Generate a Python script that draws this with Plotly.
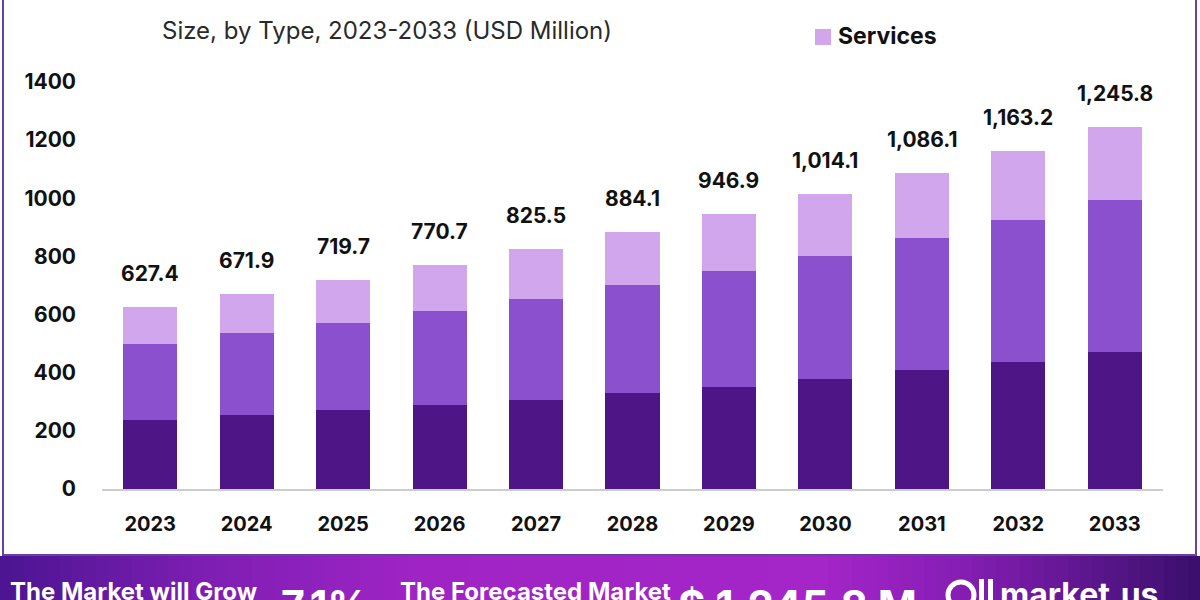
import plotly.graph_objects as go

years = ["2023", "2024", "2025", "2026", "2027", "2028", "2029", "2030", "2031", "2032", "2033"]
hardware = [238, 255, 272, 290, 307, 331, 352, 379, 410, 438, 472]
software = [262, 283, 300, 324, 348, 372, 397, 424, 455, 486, 521]
totals = [627.4, 671.9, 719.7, 770.7, 825.5, 884.1, 946.9, 1014.1, 1086.1, 1163.2, 1245.8]
total_labels = ["627.4", "671.9", "719.7", "770.7", "825.5", "884.1", "946.9",
                "1,014.1", "1,086.1", "1,163.2", "1,245.8"]
services = [round(t - h - s, 1) for t, h, s in zip(totals, hardware, software)]
y_ticks = [0, 200, 400, 600, 800, 1000, 1200, 1400]

W, H = 1200, 600
ML, MR, MT, MB = 102, 37, 82, 111
PW, PH = W - ML - MR, H - MT - MB


def px(x):
    return (x - ML) / PW


def py(y):
    return (H - MB - y) / PH


FONT = "Inter, Poppins, Open Sans, sans-serif"
C_DARK = "#4d1585"
C_MID = "#8a50cd"
C_LIGHT = "#d1a6ec"

fig = go.Figure()
fig.add_trace(go.Bar(x=years, y=hardware, name="Hardware", marker_color=C_DARK,
                     marker_line_width=0, hoverinfo="x+y+name"))
fig.add_trace(go.Bar(x=years, y=software, name="Software", marker_color=C_MID,
                     marker_line_width=0, hoverinfo="x+y+name"))
fig.add_trace(go.Bar(x=years, y=services, name="Services", marker_color=C_LIGHT,
                     marker_line_width=0, hoverinfo="x+y+name"))

annotations = []
# total labels: on a category axis annotations are placed by category index
for i, (tot, lab) in enumerate(zip(totals, total_labels)):
    annotations.append(dict(x=i, y=tot, xref="x", yref="y", text=f"<b>{lab}</b>",
                            showarrow=False, yanchor="bottom", yshift=19,
                            font=dict(family=FONT, size=21, color="#111111")))

# subtitle
annotations.append(dict(xref="paper", yref="paper", x=px(387), y=py(30),
                        text="Size, by Type, 2023-2033 (USD Million)", showarrow=False,
                        xanchor="center", yanchor="middle",
                        font=dict(family=FONT, size=24, color="#2a2a2a")))

# legend entry (drawn manually to get the large square swatch)
annotations.append(dict(xref="paper", yref="paper", x=px(836), y=py(36),
                        text="<b>Services</b>", showarrow=False,
                        xanchor="left", yanchor="middle",
                        font=dict(family=FONT, size=23, color="#111111")))

shapes = []
shapes.append(dict(type="rect", xref="paper", yref="paper", x0=px(815), x1=px(831),
                   y0=py(29), y1=py(45), fillcolor=C_LIGHT, line=dict(width=0)))

# gradient banner at the bottom
stops = [(0, (0x4b, 0x15, 0x91)), (200, (0x7c, 0x1e, 0xb2)), (420, (0xa0, 0x24, 0xc4)),
         (820, (0xa4, 0x25, 0xc8)), (960, (0x86, 0x1e, 0xb5)), (1200, (0x3a, 0x0f, 0x6c))]


def col_at(x):
    for (x0, c0), (x1, c1) in zip(stops[:-1], stops[1:]):
        if x0 <= x <= x1:
            t = (x - x0) / (x1 - x0)
            return "rgb(%d,%d,%d)" % tuple(round(a + (b - a) * t) for a, b in zip(c0, c1))
    return "rgb(%d,%d,%d)" % stops[-1][1]


n = 100
for i in range(n):
    x0 = W * i / n
    x1 = W * (i + 1) / n + 0.6
    shapes.append(dict(type="rect", xref="paper", yref="paper", x0=px(x0), x1=px(x1),
                       y0=py(556), y1=py(601), fillcolor=col_at((x0 + x1) / 2),
                       line=dict(width=0), layer="below"))

# frame border
border = "#6e3fa3"
shapes.append(dict(type="line", xref="paper", yref="paper", x0=px(3), x1=px(3),
                   y0=py(-2), y1=py(556), line=dict(color=border, width=2)))
shapes.append(dict(type="line", xref="paper", yref="paper", x0=px(1196), x1=px(1196),
                   y0=py(-2), y1=py(556), line=dict(color=border, width=2)))
shapes.append(dict(type="line", xref="paper", yref="paper", x0=px(3), x1=px(1196),
                   y0=py(555), y1=py(555), line=dict(color=border, width=2)))

# logo icon (circle + two bars)
shapes.append(dict(type="circle", xref="paper", yref="paper", x0=px(948), x1=px(974),
                   y0=py(582), y1=py(608), line=dict(color="white", width=5)))
shapes.append(dict(type="rect", xref="paper", yref="paper", x0=px(979), x1=px(984),
                   y0=py(579), y1=py(601), fillcolor="white", line=dict(width=0)))
shapes.append(dict(type="rect", xref="paper", yref="paper", x0=px(988), x1=px(993),
                   y0=py(579), y1=py(601), fillcolor="white", line=dict(width=0)))

banner_texts = [
    (8, 575, "The Market will Grow", 24),
    (279, 578, "7.1%", 41),
    (398, 575, "The Forecasted Market", 24),
    (676, 578, "$ 1,245.8 M", 42),
    (998, 573, "market.us", 32),
]
for x, y, t, s in banner_texts:
    annotations.append(dict(xref="paper", yref="paper", x=px(x), y=py(y), text=f"<b>{t}</b>",
                            showarrow=False, xanchor="left", yanchor="top",
                            font=dict(family=FONT, size=s, color="white")))

fig.update_layout(
    width=W, height=H,
    margin=dict(l=ML, r=MR, t=MT, b=MB),
    barmode="stack", bargap=0.44,
    plot_bgcolor="white", paper_bgcolor="white",
    font=dict(family=FONT, color="#111111"),
    showlegend=False,
    annotations=annotations,
    shapes=shapes,
    xaxis=dict(type="category", range=[-0.5, 10.5], showgrid=False, showline=True,
               linecolor="#cccccc", linewidth=2, ticks="",
               tickfont=dict(family=FONT, size=20, color="#111111", weight="bold"),
               ticklabelstandoff=16, fixedrange=True),
    yaxis=dict(range=[0, 1400], tickvals=y_ticks, showgrid=False, zeroline=False,
               showline=False, ticks="",
               tickfont=dict(family=FONT, size=21, color="#111111", weight="bold"),
               ticklabelstandoff=25, fixedrange=True),
)

fig.write_html("out.html", config={"displayModeBar": False},
               post_script="document.body.style.margin='0';document.body.style.overflow='hidden';")
